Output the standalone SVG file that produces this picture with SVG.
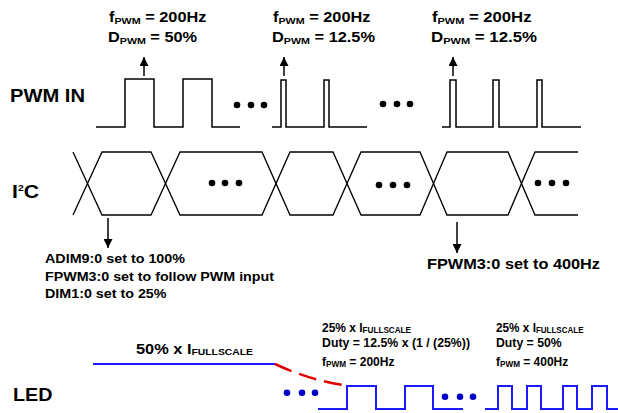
<svg xmlns="http://www.w3.org/2000/svg" width="618" height="413" viewBox="0 0 618 413">
<defs>
<style>
.t{font-family:"Liberation Sans",Arial,sans-serif;font-weight:bold;fill:#000}
.wave{fill:none;stroke:#000;stroke-width:1.5;stroke-linejoin:miter}
.bus{fill:none;stroke:#000;stroke-width:1.3}
.led{fill:none;stroke:#1a1aff;stroke-width:2}
.dot{fill:#000}
.bdot{fill:#0000c8}
.arr{stroke:#000;stroke-width:1.5;fill:none}
.red{fill:none;stroke:#e00000;stroke-width:2.5;stroke-dasharray:18 8}
</style>
<marker id="ah" viewBox="0 0 10 10" refX="10" refY="5" markerWidth="10" markerHeight="9" markerUnits="userSpaceOnUse" orient="auto">
<path d="M0,0 L10,5 L0,10 z" fill="#000"/>
</marker>
</defs>
<rect width="618" height="413" fill="#fff"/>

<g id="pwm-label"><text class="t" x="10" y="101.7" font-size="18.5" textLength="75" lengthAdjust="spacingAndGlyphs">PWM IN</text></g>
<g id="i2c-label"><text class="t" x="12" y="198" font-size="18.5" textLength="27" lengthAdjust="spacingAndGlyphs">I<tspan font-size="9" dy="-7">2</tspan><tspan dy="7">C</tspan></text></g>
<g id="led-label"><text class="t" x="13" y="400.7" font-size="18.5" textLength="39.5" lengthAdjust="spacingAndGlyphs">LED</text></g>

<g id="pwm-wave">
<polyline class="wave" points="96,127 125,127 125,79 154,79 154,127 183,127 183,79 212,79 212,127 240,127"/>
<circle class="dot" cx="237" cy="105" r="3.3"/><circle class="dot" cx="251" cy="105" r="3.3"/><circle class="dot" cx="264" cy="105" r="3.3"/>
<polyline class="wave" points="272,127 281,127 281,80 286,80 286,127 324,127 324,80 329,80 329,127 367,127"/>
<circle class="dot" cx="383" cy="104" r="3.3"/><circle class="dot" cx="397" cy="104" r="3.3"/><circle class="dot" cx="410" cy="104" r="3.3"/>
<polyline class="wave" points="442,127 450,127 450,80 456,80 456,127 493,127 493,80 499,80 499,127 537,127 537,80 542,80 542,127 581,127"/>
</g>

<g id="pwm-note-1">
<text class="t" x="109" y="22" font-size="14.5" textLength="97.5" lengthAdjust="spacingAndGlyphs">f<tspan font-size="9.5" dy="1.5">PWM</tspan><tspan dy="-1.5"> = 200Hz</tspan></text>
<text class="t" x="108" y="42" font-size="14.5" textLength="89" lengthAdjust="spacingAndGlyphs">D<tspan font-size="9.5" dy="1.5">PWM</tspan><tspan dy="-1.5"> = 50%</tspan></text>
</g>
<g id="pwm-note-2">
<text class="t" x="273" y="22" font-size="14.5" textLength="97.5" lengthAdjust="spacingAndGlyphs">f<tspan font-size="9.5" dy="1.5">PWM</tspan><tspan dy="-1.5"> = 200Hz</tspan></text>
<text class="t" x="272" y="42" font-size="14.5" textLength="103" lengthAdjust="spacingAndGlyphs">D<tspan font-size="9.5" dy="1.5">PWM</tspan><tspan dy="-1.5"> = 12.5%</tspan></text>
</g>
<g id="pwm-note-3">
<text class="t" x="432" y="22" font-size="14.5" textLength="99.5" lengthAdjust="spacingAndGlyphs">f<tspan font-size="9.5" dy="1.5">PWM</tspan><tspan dy="-1.5"> = 200Hz</tspan></text>
<text class="t" x="431" y="42" font-size="14.5" textLength="106" lengthAdjust="spacingAndGlyphs">D<tspan font-size="9.5" dy="1.5">PWM</tspan><tspan dy="-1.5"> = 12.5%</tspan></text>
</g>

<g id="i2c-bus">
<polyline class="bus" points="73,152 102,215 151,215 180,152 262,152 290,215 333,215 361,152 420,152 447,215 508,215 535,152 578,152"/>
<polyline class="bus" points="73,215 102,152 151,152 180,215 262,215 290,152 333,152 361,215 420,215 447,152 508,152 535,215 578,215"/>
<circle class="dot" cx="212" cy="183" r="3.3"/><circle class="dot" cx="225" cy="183" r="3.3"/><circle class="dot" cx="239" cy="183" r="3.3"/>
<circle class="dot" cx="379" cy="185" r="3.3"/><circle class="dot" cx="393" cy="185" r="3.3"/><circle class="dot" cx="407" cy="185" r="3.3"/>
<circle class="dot" cx="538" cy="183" r="3.3"/><circle class="dot" cx="552" cy="183" r="3.3"/><circle class="dot" cx="566" cy="183" r="3.3"/>
</g>

<g id="i2c-note-1">
<text class="t" x="45" y="263" font-size="13.3" textLength="140" lengthAdjust="spacingAndGlyphs">ADIM9:0 set to 100%</text>
<text class="t" x="45" y="280.5" font-size="13.3" textLength="229" lengthAdjust="spacingAndGlyphs">FPWM3:0 set to follow PWM input</text>
<text class="t" x="45" y="298" font-size="13.3" textLength="121.5" lengthAdjust="spacingAndGlyphs">DIM1:0 set to 25%</text>
</g>
<g id="i2c-note-2">
<text class="t" x="427" y="269" font-size="15" textLength="173" lengthAdjust="spacingAndGlyphs">FPWM3:0 set to 400Hz</text>
</g>

<g id="led-wave">
<polyline class="led" points="93,364 275,364"/>
<path class="red" d="M275,364 Q310,380.6 347,385.5"/>
<circle class="bdot" cx="287" cy="392.7" r="3.3"/><circle class="bdot" cx="302" cy="392.7" r="3.3"/><circle class="bdot" cx="315" cy="392.7" r="3.3"/>
<polyline class="led" points="318,409 347,409 347,386 376,386 376,409 405,409 405,386 433,386 433,409 463,409"/>
<circle class="bdot" cx="445" cy="396.7" r="3.3"/><circle class="bdot" cx="460" cy="396.7" r="3.3"/><circle class="bdot" cx="473" cy="396.7" r="3.3"/>
<polyline class="led" points="485,409 498,409 498,386 512,386 512,409 527,409 527,386 541,386 541,409 563,409 563,386 577,386 577,409 592,409 592,386 607,386 607,409 618,409"/>
</g>

<g id="led-note-1">
<text class="t" x="136" y="354" font-size="15" textLength="117" lengthAdjust="spacingAndGlyphs">50% x I<tspan font-size="9.5" dy="1">FULLSCALE</tspan></text>
</g>
<g id="led-note-2">
<text class="t" x="322" y="332" font-size="12.5" textLength="89" lengthAdjust="spacingAndGlyphs">25% x I<tspan font-size="8.5" dy="1">FULLSCALE</tspan></text>
<text class="t" x="322" y="346.7" font-size="12.5" textLength="148" lengthAdjust="spacingAndGlyphs">Duty = 12.5% x (1 / (25%))</text>
<text class="t" x="322" y="365.7" font-size="12.5" textLength="72.5" lengthAdjust="spacingAndGlyphs">f<tspan font-size="8.5" dy="1.5">PWM</tspan><tspan dy="-1.5"> = 200Hz</tspan></text>
</g>
<g id="led-note-3">
<text class="t" x="496" y="332" font-size="12.5" textLength="87.5" lengthAdjust="spacingAndGlyphs">25% x I<tspan font-size="8.5" dy="1">FULLSCALE</tspan></text>
<text class="t" x="496" y="346.7" font-size="12.5" textLength="65.7" lengthAdjust="spacingAndGlyphs">Duty = 50%</text>
<text class="t" x="496" y="365.7" font-size="12.5" textLength="72.3" lengthAdjust="spacingAndGlyphs">f<tspan font-size="8.5" dy="1.5">PWM</tspan><tspan dy="-1.5"> = 400Hz</tspan></text>
</g>

<g id="connectors">
<line class="arr" x1="144" y1="76" x2="144" y2="57" marker-end="url(#ah)"/>
<line class="arr" x1="284" y1="76" x2="284" y2="57" marker-end="url(#ah)"/>
<line class="arr" x1="453" y1="76" x2="453" y2="57" marker-end="url(#ah)"/>
<line class="arr" x1="108" y1="218" x2="108" y2="248" marker-end="url(#ah)"/>
<line class="arr" x1="457" y1="222" x2="457" y2="253" marker-end="url(#ah)"/>
</g>
</svg>
